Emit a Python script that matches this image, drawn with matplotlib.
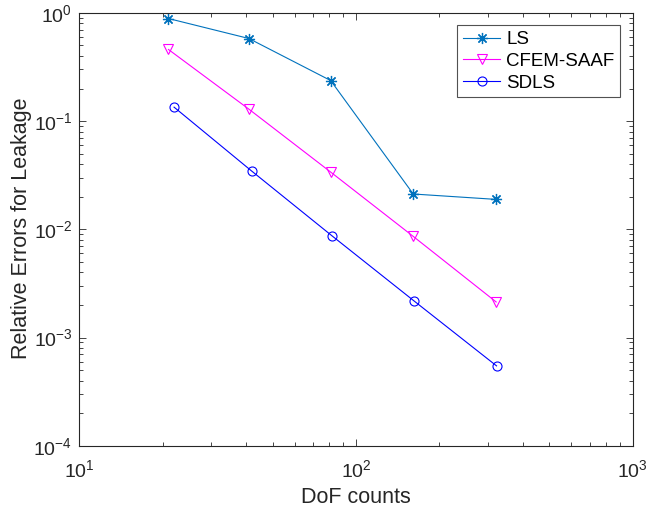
import numpy as np
import matplotlib
matplotlib.use("Agg")
import matplotlib.pyplot as plt
from matplotlib.ticker import LogLocator, NullFormatter

plt.rcParams['font.family'] = ['Liberation Sans', 'DejaVu Sans']
plt.rcParams['mathtext.fontset'] = 'custom'
plt.rcParams['mathtext.rm'] = 'Liberation Sans'

# data
dof_ls = [21, 41, 81, 161, 321]
err_ls = [0.887, 0.58, 0.237, 0.0212, 0.0189]

dof_cfem = [21, 41, 81, 161, 321]
err_cfem = [0.459, 0.129, 0.0338, 0.0086, 0.00213]

dof_sdls = [22, 42, 82, 162, 322]
err_sdls = [0.1346, 0.0345, 0.00868, 0.00218, 0.000547]

fig = plt.figure(figsize=(6.48, 5.08), dpi=100)
ax = fig.add_axes([0.1224, 0.1226, 0.854, 0.852])

# MATLAB-like asterisk marker
ast = (8, 2, 0)
ax.loglog(dof_ls, err_ls, '-', marker=ast, color='#0072BD', lw=0.8, ms=8, mew=0.9, label='LS')
ax.loglog(dof_cfem, err_cfem, '-v', color='#FF00FF', lw=0.8, ms=7, mew=0.8,
          mfc='none', label='CFEM-SAAF')
ax.loglog(dof_sdls, err_sdls, '-o', color='#0000FF', lw=0.8, ms=6.5, mew=0.8,
          mfc='none', label='SDLS')

ax.set_xlim(10, 1000)
ax.set_ylim(1e-4, 1)
ax.xaxis.set_major_locator(LogLocator(base=10, numticks=10))
ax.yaxis.set_major_locator(LogLocator(base=10, numticks=10))
ax.xaxis.set_minor_locator(LogLocator(base=10, subs=np.arange(2, 10), numticks=20))
ax.yaxis.set_minor_locator(LogLocator(base=10, subs=np.arange(2, 10), numticks=20))
ax.xaxis.set_minor_formatter(NullFormatter())
ax.yaxis.set_minor_formatter(NullFormatter())

ax.tick_params(which='both', direction='in', top=True, right=True,
               color='#262626', labelsize=14, labelcolor='#262626')
ax.tick_params(which='major', length=5, width=0.6)
ax.tick_params(which='minor', length=3, width=0.6)
ax.tick_params(axis='x', which='major', pad=10)
ax.tick_params(axis='y', which='major', pad=5)
for s in ax.spines.values():
    s.set_color('#262626')
    s.set_linewidth(0.8)

ax.set_xlabel('DoF counts', fontsize=15.5, color='#262626')
ax.set_ylabel('Relative Errors for Leakage', fontsize=15.5, color='#262626', va='center')
ax.xaxis.set_label_coords(0.5, -0.095)
ax.yaxis.set_label_coords(-0.105, 0.502)

leg = ax.legend(loc='upper right', bbox_to_anchor=(0.977, 0.971), fontsize=13.5,
                frameon=True, fancybox=False, edgecolor='#262626',
                handlelength=2.0, handletextpad=0.3, borderpad=0.3,
                labelspacing=0.25, borderaxespad=0.0)
leg.get_frame().set_linewidth(0.8)

fig.savefig('out.png', dpi=100)
